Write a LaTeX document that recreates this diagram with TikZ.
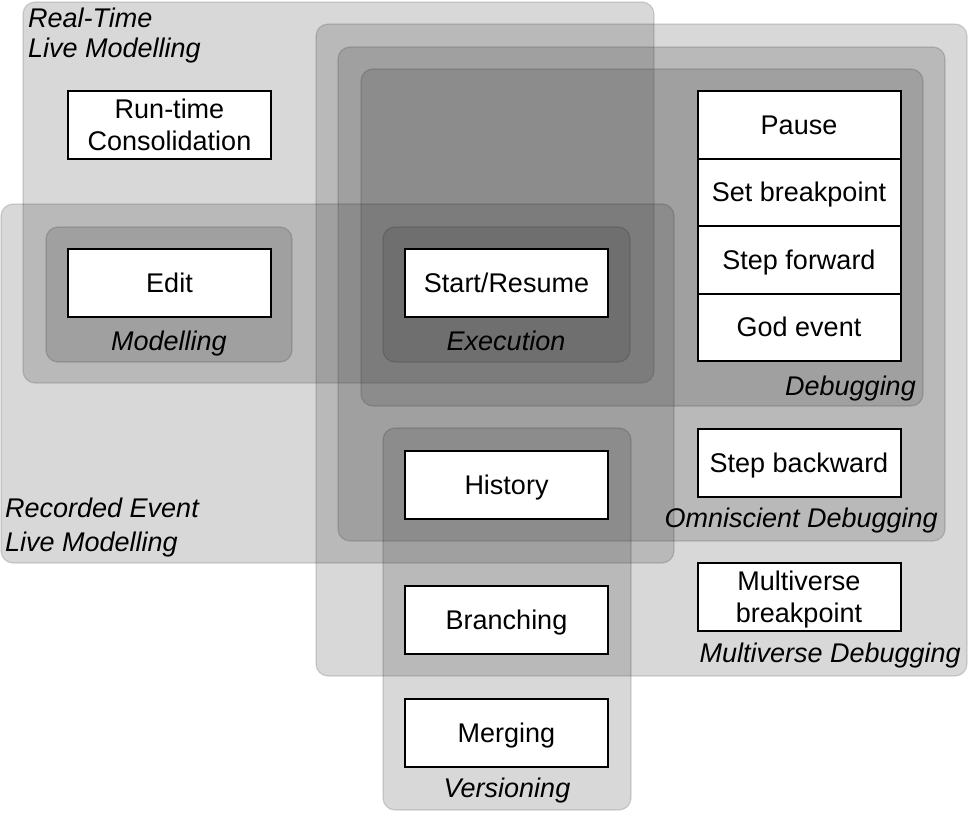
\documentclass[tikz,border=0pt]{standalone}
\usepackage{fontspec}
\setmainfont{Liberation Sans}
\definecolor{grpfill}{RGB}{61,61,61}
\begin{document}
\begin{tikzpicture}[x=1pt,y=-1pt,
  grp/.style={draw=black, draw opacity=0.15, line width=1.2pt, fill=grpfill, fill opacity=0.2,
    rounded corners=12pt, inner sep=0pt, outer sep=0pt},
  item/.style={draw=black, line width=2pt, fill=white, minimum width=203pt, minimum height=68pt,
    inner sep=0pt, align=center, text depth=0pt, font=\fontsize{27}{32.4}\selectfont},
  one/.style={text height=19.3pt},
  lbl/.style={font=\fontsize{27}{32}\selectfont\itshape, inner sep=0pt}
]
\useasboundingbox (0,0) rectangle (969,812);
% groups
\node[grp, minimum width=631pt, minimum height=381pt] (rt) at (338.5,192.5) {};
\node[grp, minimum width=651pt, minimum height=652pt] (mv) at (641.5,350) {};
\node[grp, minimum width=607pt, minimum height=494pt] (om) at (641.5,294) {};
\node[grp, minimum width=562pt, minimum height=337pt] (db) at (642,237.5) {};
\node[grp, minimum width=673pt, minimum height=359pt] (re) at (337.5,383.5) {};
\node[grp, minimum width=246pt, minimum height=135pt] (mo) at (169,294.5) {};
\node[grp, minimum width=247pt, minimum height=135pt] (ex) at (506.5,294.5) {};
\node[grp, minimum width=248pt, minimum height=382pt] (ve) at (507,619) {};
% group labels
\node[lbl, anchor=base west] (lrt1) at (28,27) {Real-Time};
\node[lbl, anchor=base west] (lrt2) at (28,57) {Live Modelling};
\node[lbl, anchor=base west] (lre1) at (5,517) {Recorded Event};
\node[lbl, anchor=base west] (lre2) at (5,551) {Live Modelling};
\node[lbl, anchor=base] (lmo) at (169,350) {Modelling};
\node[lbl, anchor=base] (lex) at (506,350) {Execution};
\node[lbl, anchor=base east] (ldb) at (916,395) {Debugging};
\node[lbl, anchor=base east] (lom) at (938,527) {Omniscient Debugging};
\node[lbl, anchor=base east] (lmv) at (961,662) {Multiverse Debugging};
\node[lbl, anchor=base] (lve) at (507,797) {Versioning};
% items
\node[item] (rc) at (169.5,125) {Run-time\\Consolidation};
\node[item, one] (ed) at (169.5,283) {Edit};
\node[item, one] (sr) at (506.5,283) {Start/Resume};
\node[item, one, minimum height=67.5pt] (pa) at (799,124.75) {Pause};
\node[item, one, minimum height=67.5pt] (sb) at (799,192.25) {Set breakpoint};
\node[item, one, minimum height=67.5pt] (sf) at (799,259.75) {Step forward};
\node[item, one, minimum height=67.5pt] (ge) at (799,327.25) {God event};
\node[item, one] (bk) at (799,462.5) {Step backward};
\node[item, one] (hi) at (506.5,485) {History};
\node[item, one] (br) at (506.5,620) {Branching};
\node[item] (mb) at (799,597) {Multiverse\\breakpoint};
\node[item, one] (me) at (506.5,732.5) {Merging};
\end{tikzpicture}
\end{document}
